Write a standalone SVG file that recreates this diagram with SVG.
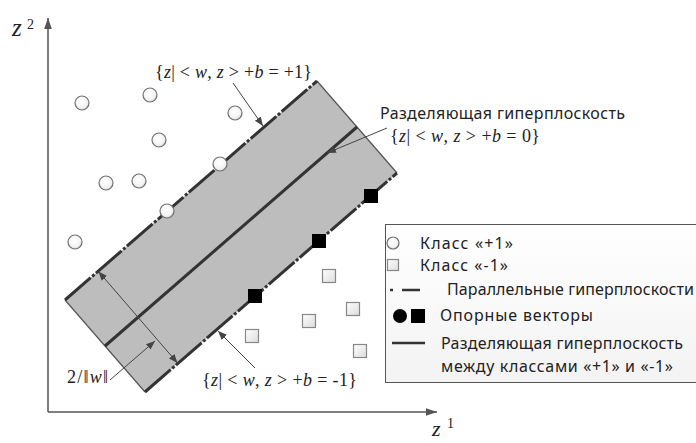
<svg xmlns="http://www.w3.org/2000/svg" width="696" height="443" viewBox="0 0 696 443">
<defs>
<style>
.ax{stroke:#555;stroke-width:1.5;fill:none}
.lead{stroke:#444;stroke-width:1;fill:none}
.edge{stroke:#333;stroke-width:3;fill:none;stroke-dasharray:34 2 3 2}
.side{stroke:#555;stroke-width:1.2;fill:none}
.mid{stroke:#333;stroke-width:3;fill:none}
.c{fill:url(#cg);stroke:#707070;stroke-width:1.2}
.s{fill:url(#sg);stroke:#888;stroke-width:1.2}
.f{fill:#000}
.m{font-family:"Liberation Serif","Times New Roman",serif;font-size:18px;fill:#222}
.t{font-family:"Noto Sans","Open Sans",sans-serif;font-size:16px;fill:#222}
</style>
<radialGradient id="cg" cx="0.45" cy="0.4" r="0.6"><stop offset="0" stop-color="#fff"/><stop offset="0.7" stop-color="#f4f4f4"/><stop offset="1" stop-color="#d8d8d8"/></radialGradient>
<linearGradient id="sg" x1="0" y1="0" x2="1" y2="1"><stop offset="0" stop-color="#fff"/><stop offset="1" stop-color="#dcdcdc"/></linearGradient>
<linearGradient id="lg" x1="0" y1="0" x2="0" y2="1"><stop offset="0" stop-color="#fff"/><stop offset="1" stop-color="#f3f3f3"/></linearGradient>
<marker id="ah" viewBox="0 0 10 10" refX="10" refY="5" markerWidth="9" markerHeight="9" markerUnits="userSpaceOnUse" orient="auto-start-reverse"><path d="M0,1 L10,5 L0,9 z" fill="#444"/></marker>
<marker id="axh" viewBox="0 0 10 10" refX="10" refY="5" markerWidth="11" markerHeight="11" markerUnits="userSpaceOnUse" orient="auto"><path d="M0,1.5 L10,5 L0,8.5 z" fill="#555"/></marker>
</defs>

<g id="axes">
<line class="ax" x1="48" y1="412" x2="48" y2="18" marker-end="url(#axh)"/>
<line class="ax" x1="48" y1="412" x2="437" y2="412" marker-end="url(#axh)"/>
<text class="m" x="12" y="36" style="font-size:25px;font-style:italic">z</text>
<text class="m" x="27" y="29" style="font-size:14px">2</text>
<text class="m" x="432" y="436" style="font-size:22px;font-style:italic">z</text>
<text class="m" x="447" y="428" style="font-size:14px">1</text>
</g>

<g id="band">
<polygon points="65,300 317,81 397,173 145,392" fill="#bdbdbd"/>
<line class="side" x1="65" y1="300" x2="145" y2="392"/>
<line class="side" x1="317" y1="81" x2="397" y2="173"/>
<line class="edge" x1="65" y1="300" x2="317" y2="81"/>
<line class="edge" x1="145" y1="392" x2="397" y2="173"/>
<line class="mid" x1="105" y1="346" x2="357" y2="127"/>
</g>

<g id="class-plus1">
<circle class="c" cx="82" cy="103" r="7"/>
<circle class="c" cx="150" cy="95" r="7"/>
<circle class="c" cx="235" cy="113" r="7"/>
<circle class="c" cx="159" cy="140" r="7"/>
<circle class="c" cx="106" cy="183" r="7"/>
<circle class="c" cx="139" cy="181" r="7"/>
<circle class="c" cx="75" cy="242" r="7"/>
<circle class="c" cx="167" cy="211" r="7"/>
<circle class="c" cx="220" cy="164" r="7"/>
</g>

<g id="class-minus1">
<rect class="s" x="322.5" y="269.5" width="13" height="13"/>
<rect class="s" x="346.5" y="302.5" width="13" height="13"/>
<rect class="s" x="302.5" y="314.5" width="13" height="13"/>
<rect class="s" x="245.5" y="329.5" width="13" height="13"/>
<rect class="s" x="353.5" y="344.5" width="13" height="13"/>
</g>

<g id="support-vectors">
<rect class="f" x="364" y="189" width="14" height="14"/>
<rect class="f" x="312" y="234" width="14" height="14"/>
<rect class="f" x="248" y="289" width="14" height="14"/>
</g>

<g id="connectors">
<line class="lead" x1="233" y1="83" x2="263" y2="126" marker-end="url(#ah)"/>
<line class="lead" x1="387" y1="128" x2="327" y2="153" marker-end="url(#ah)"/>
<line class="lead" x1="255" y1="368" x2="218" y2="331" marker-end="url(#ah)"/>
<line class="lead" x1="98.5" y1="271.5" x2="177.5" y2="363" marker-start="url(#ah)" marker-end="url(#ah)"/>
<line class="lead" x1="110" y1="380" x2="155" y2="341" marker-end="url(#ah)"/>
</g>

<g id="label-plus1">
<text class="m" x="155" y="78" textLength="157">{<tspan font-style="italic">z</tspan>| &lt; <tspan font-style="italic">w</tspan>, <tspan font-style="italic">z</tspan> &gt; +<tspan font-style="italic">b</tspan> = +1}</text>
</g>
<g id="label-zero">
<text class="t" x="380" y="119" textLength="245">Разделяющая гиперплоскость</text>
<text class="m" x="390" y="142" textLength="150">{<tspan font-style="italic">z</tspan>| &lt; <tspan font-style="italic">w</tspan>, <tspan font-style="italic">z</tspan> &gt; +<tspan font-style="italic">b</tspan> = 0}</text>
</g>
<g id="label-minus1">
<text class="m" x="202" y="386" textLength="155">{<tspan font-style="italic">z</tspan>| &lt; <tspan font-style="italic">w</tspan>, <tspan font-style="italic">z</tspan> &gt; +<tspan font-style="italic">b</tspan> = -1}</text>
</g>
<g id="label-width">
<text class="m" x="67" y="383" textLength="41">2/‖<tspan font-style="italic">w</tspan>‖</text>
</g>

<g id="legend">
<rect x="385.5" y="224.5" width="320" height="158" fill="url(#lg)" stroke="#555" stroke-width="1"/>
<circle class="c" cx="393" cy="243" r="6"/>
<text class="t" x="420" y="249" textLength="93">Класс «+1»</text>
<rect class="s" x="387.5" y="259.5" width="11" height="11"/>
<text class="t" x="420" y="271" textLength="88">Класс «-1»</text>
<line x1="390" y1="290" x2="393" y2="290" stroke="#333" stroke-width="2.5"/>
<line x1="402" y1="290" x2="420" y2="290" stroke="#333" stroke-width="2.5"/>
<text class="t" x="447" y="295" textLength="247">Параллельные гиперплоскости</text>
<circle cx="400" cy="316" r="7" fill="#000"/>
<rect x="411" y="309" width="14" height="14" fill="#000"/>
<text class="t" x="440" y="321" textLength="153">Опорные векторы</text>
<line x1="392" y1="343" x2="425" y2="343" stroke="#333" stroke-width="2.5"/>
<text class="t" x="441" y="349" textLength="242">Разделяющая гиперплоскость</text>
<text class="t" x="441" y="372" textLength="232">между классами «+1» и «-1»</text>
</g>
</svg>
